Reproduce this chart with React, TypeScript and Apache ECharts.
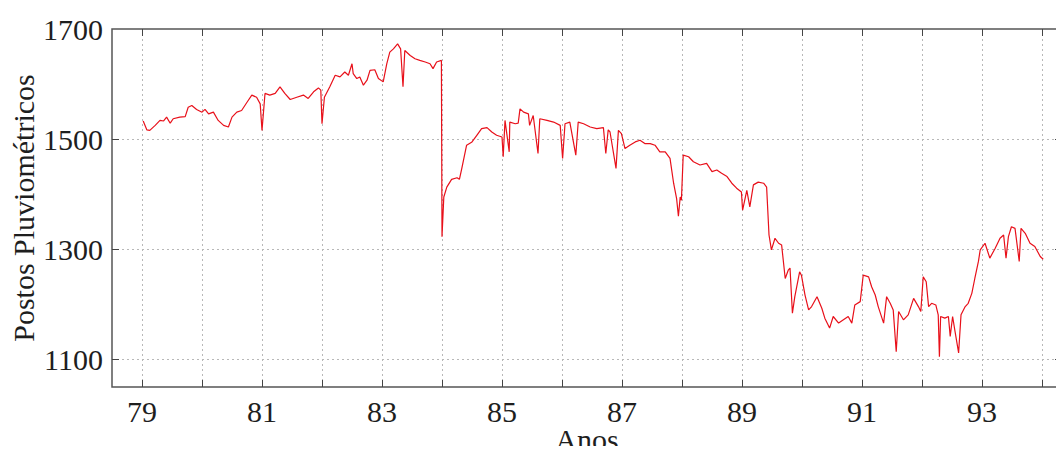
import React, { useEffect, useRef } from "react";
import * as echarts from "echarts";

// Time axis in years (two-digit), values of the rainfall-station index
const years: number[] = [
  79.02, 79.08, 79.13, 79.22, 79.3, 79.36, 79.41, 79.47, 79.52, 79.63, 79.72, 79.77, 79.83, 79.91,
  80.0, 80.05, 80.11, 80.19, 80.27, 80.36, 80.44, 80.5, 80.58, 80.66, 80.75, 80.83, 80.91, 80.97,
  81.0, 81.05, 81.13, 81.22, 81.3, 81.38, 81.47, 81.58, 81.69, 81.77, 81.86, 81.94, 81.98,
  82.0, 82.04, 82.13, 82.22, 82.3, 82.38, 82.44, 82.5, 82.52, 82.58, 82.63, 82.69, 82.75, 82.8, 82.88, 82.94,
  83.02, 83.08, 83.13, 83.19, 83.26, 83.31, 83.35, 83.38, 83.47, 83.55, 83.63, 83.72, 83.8, 83.85, 83.91, 83.99,
  84.0, 84.03, 84.08, 84.16, 84.25, 84.29, 84.33, 84.41, 84.5, 84.58, 84.66, 84.75, 84.83, 84.91,
  85.0, 85.02, 85.05, 85.12, 85.13, 85.22, 85.27, 85.3, 85.36, 85.44, 85.46, 85.52, 85.6, 85.63, 85.75, 85.86, 85.97,
  86.01, 86.05, 86.13, 86.23, 86.27, 86.36, 86.47, 86.58, 86.69, 86.73, 86.77, 86.8, 86.9, 86.94, 86.99,
  87.05, 87.13, 87.22, 87.3, 87.38, 87.47, 87.55, 87.63, 87.72, 87.8, 87.86, 87.91, 87.94, 87.97, 87.99,
  88.02, 88.11, 88.19, 88.3, 88.41, 88.5, 88.58, 88.66, 88.75, 88.83, 88.91, 88.99,
  89.01, 89.08, 89.13, 89.19, 89.27, 89.36, 89.41, 89.45, 89.49, 89.55, 89.61, 89.66, 89.72, 89.77, 89.8, 89.84, 89.88, 89.96, 89.99,
  90.05, 90.11, 90.16, 90.25, 90.33, 90.38, 90.46, 90.52, 90.61, 90.69, 90.77, 90.83, 90.88, 90.97,
  91.02, 91.11, 91.16, 91.22, 91.27, 91.36, 91.41, 91.47, 91.52, 91.57, 91.61, 91.69, 91.77, 91.86, 91.94, 91.98,
  92.02, 92.07, 92.11, 92.16, 92.23, 92.27, 92.29, 92.31, 92.38, 92.44, 92.47, 92.51, 92.55, 92.61, 92.65, 92.72, 92.77, 92.83, 92.88, 92.94, 92.97,
  93.05, 93.13, 93.22, 93.3, 93.36, 93.4, 93.44, 93.49, 93.55, 93.62, 93.65, 93.72, 93.8, 93.88, 93.97, 94.02,
];

const postos: number[] = [
  1533, 1517, 1516, 1525, 1534, 1533, 1540, 1529, 1537, 1540, 1541, 1558, 1561, 1554,
  1549, 1554, 1546, 1549, 1534, 1525, 1522, 1540, 1549, 1552, 1567, 1580, 1576, 1564,
  1516, 1583, 1580, 1583, 1595, 1583, 1572, 1576, 1580, 1574, 1586, 1593, 1589,
  1528, 1576, 1595, 1616, 1613, 1622, 1616, 1637, 1619, 1610, 1613, 1598, 1607, 1625, 1626, 1610,
  1604, 1637, 1658, 1664, 1673, 1664, 1595, 1661, 1652, 1646, 1643, 1640, 1637, 1628, 1640, 1643,
  1323, 1395, 1413, 1427, 1430, 1427, 1447, 1489, 1495, 1507, 1519, 1521, 1513, 1507,
  1504, 1468, 1534, 1477, 1531, 1528, 1529, 1555, 1549, 1546, 1525, 1543, 1474, 1537, 1534, 1531, 1525,
  1465, 1528, 1531, 1471, 1531, 1528, 1522, 1519, 1521, 1474, 1517, 1513, 1447, 1516, 1510,
  1483, 1489, 1495, 1498, 1492, 1492, 1489, 1477, 1477, 1465, 1420, 1392, 1360, 1395, 1389,
  1471, 1468, 1459, 1453, 1456, 1441, 1444, 1438, 1432, 1420, 1411, 1404,
  1371, 1407, 1377, 1417, 1422, 1420, 1413, 1326, 1299, 1320, 1311, 1308, 1247, 1262, 1266, 1184, 1214, 1259, 1253,
  1217, 1190, 1196, 1214, 1193, 1175, 1157, 1178, 1166, 1172, 1178, 1166, 1199, 1205,
  1253, 1250, 1232, 1217, 1196, 1166, 1214, 1202, 1190, 1114, 1187, 1172, 1181, 1211, 1196, 1187,
  1250, 1241, 1196, 1202, 1199, 1181, 1105, 1178, 1175, 1178, 1142, 1178, 1151, 1112, 1181, 1196, 1202, 1220, 1247, 1278, 1299,
  1311, 1284, 1302, 1320, 1326, 1284, 1323, 1341, 1338, 1278, 1338, 1329, 1311, 1305, 1287, 1282,
];

// Year ticks (every year) and labelled years (every other year)
const yearTicks: number[] = [79, 80, 81, 82, 83, 84, 85, 86, 87, 88, 89, 90, 91, 92, 93, 94];
const yearLabels: number[] = [79, 81, 83, 85, 87, 89, 91, 93];
const valueTicks: number[] = [1100, 1300, 1500];
const valueLabels: number[] = [1100, 1300, 1500, 1700];

const FONT = "Liberation Serif";
const TEXT = "#1e1e1e";
const GRID = "#b8b8b8";

export default function App() {
  const ref = useRef<HTMLDivElement>(null);

  useEffect(() => {
    if (!ref.current) return;
    const chart = echarts.init(ref.current, null, { renderer: "svg" });

    const tickStyle = { show: true, inside: true, length: 7, lineStyle: { color: "#444", width: 1 } };
    const gridLine = { show: true, lineStyle: { color: GRID, type: [2, 3] as number[], width: 1 } };

    chart.setOption({
      animation: false,
      backgroundColor: "#ffffff",
      grid: {
        left: 112,
        right: 2,
        top: 29,
        bottom: 67,
        outerBoundsMode: "none",
        containLabel: false,
        show: true,
        borderColor: "#555",
        borderWidth: 1.5,
        backgroundColor: "transparent",
      },
      xAxis: [
        {
          type: "value",
          min: 78.5,
          max: 94.333,
          name: "Anos",
          nameLocation: "middle",
          nameGap: 37,
          nameMoveOverlap: false,
          nameTextStyle: { fontFamily: FONT, fontSize: 30, color: TEXT },
          axisLine: { show: false },
          axisTick: { ...tickStyle, customValues: yearTicks },
          axisLabel: {
            customValues: yearLabels,
            fontFamily: FONT,
            fontSize: 30,
            color: TEXT,
            margin: 9,
            formatter: (v: number) => String(v),
          },
          splitLine: gridLine,
        },
        {
          type: "value",
          position: "top",
          min: 78.5,
          max: 94.333,
          axisLine: { show: false },
          axisTick: { ...tickStyle, customValues: yearTicks },
          axisLabel: { show: false },
          splitLine: { show: false },
        },
      ],
      yAxis: [
        {
          type: "value",
          min: 1050,
          max: 1700,
          name: "Postos Pluviométricos",
          nameLocation: "middle",
          nameGap: 74,
          nameMoveOverlap: false,
          nameTextStyle: { fontFamily: FONT, fontSize: 30, color: TEXT },
          axisLine: { show: false },
          axisTick: { ...tickStyle, customValues: valueTicks },
          axisLabel: {
            customValues: valueLabels,
            fontFamily: FONT,
            fontSize: 30,
            color: TEXT,
            margin: 9,
            formatter: (v: number) => String(v),
          },
          splitLine: gridLine,
        },
        {
          type: "value",
          position: "right",
          min: 1050,
          max: 1700,
          axisLine: { show: false },
          axisTick: { ...tickStyle, customValues: valueTicks },
          axisLabel: { show: false },
          splitLine: { show: false },
        },
      ],
      series: [
        {
          type: "line",
          xAxisIndex: 0,
          yAxisIndex: 0,
          data: years.map((y, i) => [y, postos[i]]),
          showSymbol: false,
          symbol: "none",
          lineStyle: { color: "#e8101a", width: 1.2 },
          z: 5,
        },
      ],
    });

    return () => chart.dispose();
  }, []);

  return <div ref={ref} style={{ width: 1064, height: 454, margin: -8 }} />;
}
